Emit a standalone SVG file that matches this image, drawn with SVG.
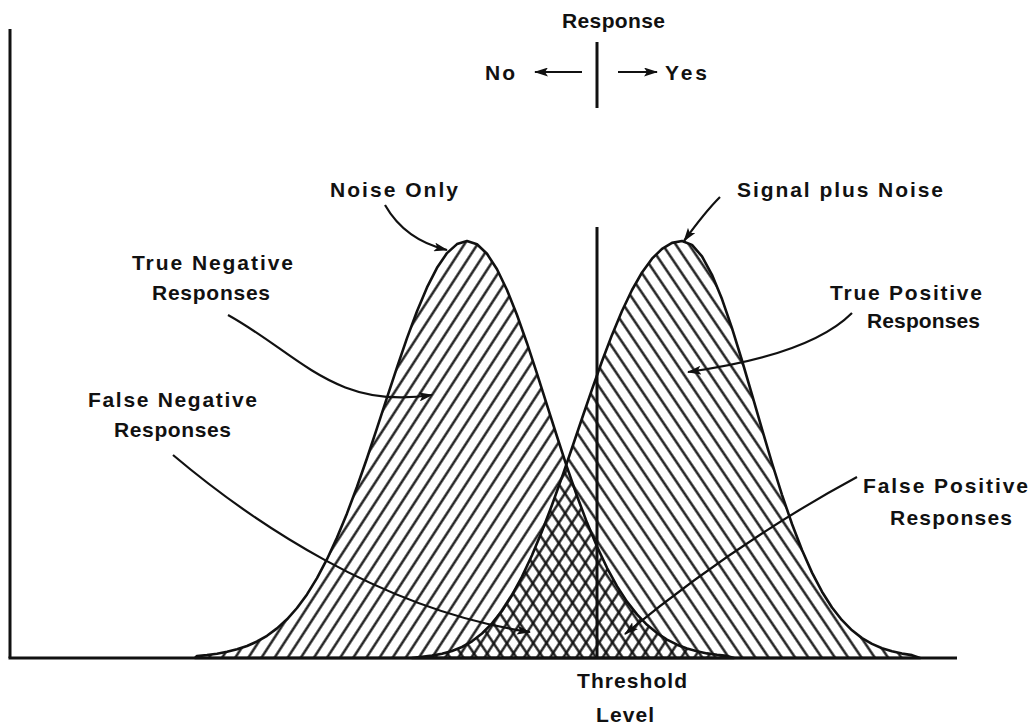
<svg xmlns="http://www.w3.org/2000/svg" width="1032" height="726" viewBox="0 0 1032 726">
  <style>
    .lbl { font-family: "Liberation Sans", Arial, sans-serif; font-weight: 700; font-size: 21px; fill: #111; }
    .axis { stroke: #111; stroke-width: 3; fill: none; }
    .curve { stroke: #111; stroke-width: 2.6; fill: none; stroke-linejoin: round; }
    .conn { stroke: #111; stroke-width: 2.2; fill: none; marker-end: url(#head); }
  </style>
  <defs>
    <!-- "/" hatching for the noise-only distribution -->
    <pattern id="hatchNoise" width="11" height="11" patternUnits="userSpaceOnUse" patternTransform="rotate(33)">
      <line x1="5.5" y1="-1" x2="5.5" y2="12" stroke="#111" stroke-width="2.3"/>
    </pattern>
    <!-- "\" hatching for the signal-plus-noise distribution -->
    <pattern id="hatchSignal" width="11" height="11" patternUnits="userSpaceOnUse" patternTransform="rotate(-34)">
      <line x1="5.5" y1="-1" x2="5.5" y2="12" stroke="#111" stroke-width="2.3"/>
    </pattern>
    <marker id="head" viewBox="0 0 14 9" refX="13" refY="4.5" markerWidth="14" markerHeight="9" markerUnits="userSpaceOnUse" orient="auto">
      <path d="M0,0 L14,4.5 L0,9 L3,4.5 z" fill="#111"/>
    </marker>
    <!-- distribution outlines, closed along the baseline -->
    <path id="noise-shape" d="M195,658 L197,656 L207,655 L217,653.7 L227,651.8 L237,649.3 L247,646 L257,641.5 L267,635.8 L277,628.4 L287,619.3 L297,608 L307,594.4 L317,578.1 L327,559.2 L337,537.6 L347,513.4 L357,486.8 L367,458.2 L377,428.2 L387,397.7 L397,367.3 L407,338.1 L417,311.2 L427,287.4 L437,267.8 L447,253.1 L457,244.1 L467,241 L477,244.3 L487,253.8 L497,269.3 L507,290 L517,315 L527,343.2 L537,373.6 L547,405.1 L557,436.5 L567,467.1 L577,496 L587,522.6 L597,546.6 L607,567.8 L617,586.1 L627,601.6 L637,614.4 L647,624.8 L657,633.1 L667,639.7 L677,644.7 L687,648.5 L697,651.3 L707,653.4 L717,654.8 L727,655.9 L734,658 Z"/>
    <path id="signal-shape" d="M412,658 L422,656.7 L432,655.6 L442,653.8 L452,651 L462,647 L472,641.3 L482,633.5 L492,623.4 L502,610.7 L512,595.1 L522,576.6 L532,555.2 L542,531.2 L552,505 L562,477.1 L572,448 L582,418.5 L592,389.3 L602,361.2 L612,334.9 L622,311 L632,290 L642,272.5 L652,258.7 L662,248.8 L672,242.9 L682,241 L692,244.9 L702,256.4 L712,274.8 L722,299.1 L732,328.2 L742,360.5 L752,394.7 L762,429.2 L772,463 L782,494.8 L792,524 L802,550 L812,572.6 L822,591.7 L832,607.5 L842,620.2 L852,630.3 L862,638.1 L872,643.9 L882,648.2 L892,651.3 L902,653.6 L912,655.1 L920,658 Z"/>
  </defs>

  <rect width="1032" height="726" fill="#fff"/>

  <!-- noise-only distribution -->
  <g id="noise">
    <use href="#noise-shape" fill="url(#hatchNoise)" stroke="none"/>
  </g>

  <!-- signal-plus-noise distribution -->
  <g id="signal">
    <use href="#signal-shape" fill="url(#hatchSignal)" stroke="none"/>
  </g>

  <!-- outlines of both distributions -->
  <g id="outlines">
    <use href="#noise-shape" class="curve"/>
    <use href="#signal-shape" class="curve"/>
  </g>

  <!-- axes and threshold -->
  <g id="axes">
    <line class="axis" x1="10" y1="29" x2="10" y2="658"/>
    <line class="axis" x1="8.5" y1="658" x2="957" y2="658"/>
  </g>
  <g id="threshold">
    <line class="axis" x1="597" y1="227" x2="597" y2="658"/>
  </g>

  <!-- response indicator -->
  <g id="response">
    <line class="axis" x1="597" y1="42" x2="597" y2="108"/>
    <text class="lbl" x="562" y="28" textLength="103" lengthAdjust="spacing">Response</text>
    <text class="lbl" x="485" y="80" textLength="30" lengthAdjust="spacing">No</text>
    <text class="lbl" x="665" y="80" textLength="42" lengthAdjust="spacing">Yes</text>
  </g>

  <!-- connectors -->
  <g id="connectors">
    <line class="conn" x1="582" y1="72" x2="535" y2="72"/>
    <line class="conn" x1="618" y1="72" x2="657" y2="72"/>
    <path class="conn" d="M385,205 Q405,240 447,250"/>
    <path class="conn" d="M720,197 Q705,212 684,241"/>
    <path class="conn" d="M228,315 C300,355 335,410 432,395"/>
    <path class="conn" d="M173,455 C250,520 380,610 530,632"/>
    <path class="conn" d="M852,313 Q810,355 688,372"/>
    <path class="conn" d="M857,477 Q740,540 625,634"/>
  </g>

  <!-- labels -->
  <g id="label-noise-only">
    <text class="lbl" x="330" y="197" textLength="128" lengthAdjust="spacing">Noise Only</text>
  </g>
  <g id="label-signal-plus-noise">
    <text class="lbl" x="737" y="197" textLength="206" lengthAdjust="spacing">Signal plus Noise</text>
  </g>
  <g id="label-true-negative">
    <text class="lbl" x="132" y="270" textLength="161" lengthAdjust="spacing">True Negative</text>
    <text class="lbl" x="152" y="300" textLength="118" lengthAdjust="spacing">Responses</text>
  </g>
  <g id="label-false-negative">
    <text class="lbl" x="88" y="407" textLength="169" lengthAdjust="spacing">False Negative</text>
    <text class="lbl" x="114" y="437" textLength="117" lengthAdjust="spacing">Responses</text>
  </g>
  <g id="label-true-positive">
    <text class="lbl" x="830" y="300" textLength="152" lengthAdjust="spacing">True Positive</text>
    <text class="lbl" x="867" y="328" textLength="113" lengthAdjust="spacing">Responses</text>
  </g>
  <g id="label-false-positive">
    <text class="lbl" x="863" y="493" textLength="165" lengthAdjust="spacing">False Positive</text>
    <text class="lbl" x="890" y="525" textLength="122" lengthAdjust="spacing">Responses</text>
  </g>
  <g id="label-threshold">
    <text class="lbl" x="577" y="688" textLength="110" lengthAdjust="spacing">Threshold</text>
    <text class="lbl" x="596" y="722" textLength="58" lengthAdjust="spacing">Level</text>
  </g>
</svg>
